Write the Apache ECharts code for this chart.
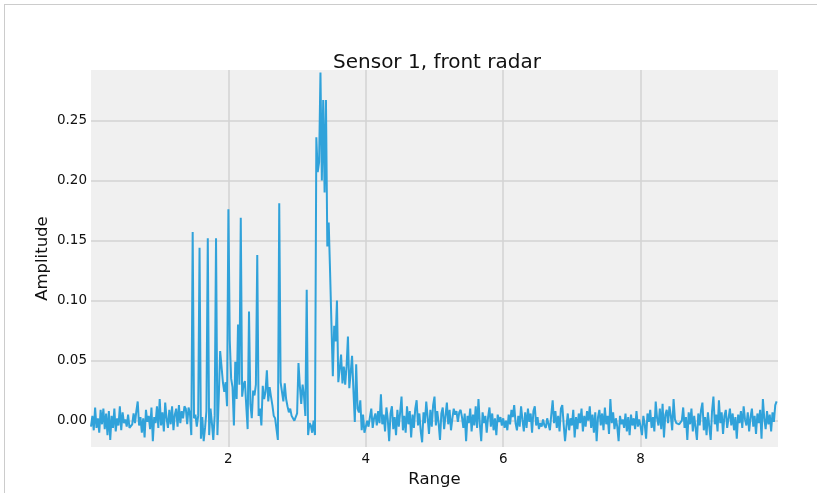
<!DOCTYPE html>
<html>
<head>
<meta charset="UTF-8">
<title>Sensor 1, front radar</title>
<script src="https://cdn.jsdelivr.net/npm/echarts@6/dist/echarts.min.js"></script>
<style>
  html, body { margin: 0; padding: 0; background: #fff; overflow: hidden; }
  #frame { position: absolute; left: 4px; top: 4px; width: 840px; height: 520px; border: 1px solid #cccccc; }
  #chart { position: absolute; left: 0; top: 0; width: 817px; height: 493px; }
</style>
</head>
<body>
<div id="frame"></div>
<div id="chart"></div>
<script>
// range samples every 0.02, amplitude in thousandths, one array per unit of range
var rangeStep = 0.02;
var amp0 = [-5, 4, -8, 11, -6, 2, -10, 9, -3, 10, -7, 6, -12, 8, -16, 4, -6, 10, -9, 2,
  -4, 12, -8, 7, -2, 1, -5, 5, -6, -5, -3, 6, -2, 8, 16, -4, 3, -10, 2, -14,
  9, -1, 4, -7, 11, -17, 3, -2, 12, -6];
var amp1 = [18, -4, 7, -9, 15, 2, -6, 9, -3, 12, -8, 5, 10, -5, 13, -2, 8, 2, 12, 10,
  -3, 11, 6, -12, 157, 2, 5, -5, 4, 144, -15, 3, -17, -6, 8, 152, -12, 10, -2, -16,
  4, 152, -12, 20, 58, 45, 32, 24, 32, 12];
var amp2 = [176, 67, 35, 28, -4, 49, 18, 80, 30, 169, 20, 30, 33, 12, -7, 91, 14, 2, 25, 21,
  30, 138, 4, 10, -4, 29, 18, 24, 42, 16, 28, 20, 13, 4, 2, -7, -16, 181, 32, 24,
  16, 31, 18, 12, 7, 10, 4, 2, 0, -1];
var amp3 = [6, 48, 29, 14, 30, 21, 4, 109, -12, -2, -4, -10, 0, -12, 236, 207, 215, 290, 200, 267,
  190, 267, 145, 165, 124, 80, 37, 79, 66, 100, 32, 43, 55, 31, 45, 30, 45, 70, 27, 40,
  54, 25, -1, 47, 10, 7, 17, -8, 5, -10];
var amp4 = [-10, 0, -5, 3, 10, -6, 2, 6, -4, 8, -2, 22, -3, 5, -9, 11, 1, -17, 6, 12,
  -7, 3, -12, 9, -5, 7, 20, -8, 4, -10, 12, -3, 8, -14, 5, -6, 10, 17, -4, 6,
  -9, -18, 7, -2, 16, 3, -11, 9, -5, 13];
var amp5 = [20, -4, 8, -2, -16, 6, 11, -7, 4, 15, -3, 9, -8, 2, 10, 5, 8, -1, 7, 9,
  3, -6, 6, -17, 4, -2, 10, -9, 5, -4, 12, -6, 18, -3, -17, 7, -2, 4, -10, 3,
  11, -5, 6, -8, 2, -12, 5, -1, 3, -4];
var amp6 = [2, -6, 0, -8, 5, -3, 9, 3, 13, -2, -8, 4, -5, 12, 1, -9, 7, -6, 10, -1,
  6, -10, 8, 12, -4, 3, -7, -2, -5, 1, -4, -6, 2, -3, -8, 5, 17, -2, 8, -6,
  4, -9, 10, 13, -3, -17, -5, 6, -8, 2];
var amp7 = [-4, 9, -14, 3, -7, 6, -2, 10, -9, 4, -5, 8, 0, 12, -6, 5, -10, 7, -17, 3,
  9, -4, 6, -8, 11, -3, 4, -11, 18, -2, 7, -7, 2, -5, -17, 4, -3, 1, -6, 6,
  -9, 3, -12, 5, -4, 2, -7, 8, -5, 1];
var amp8 = [-5, -12, 4, -3, -15, 6, -1, 9, -6, 3, -9, 16, 2, -4, 10, -7, 14, -14, 5, 9,
  -2, 12, 4, -8, 18, 1, -2, -1, -3, -2, 0, 11, -6, 3, -16, 7, -3, 10, -9, 4,
  -6, -16, 6, -4, 9, 15, -8, 3, -12, 7];
var amp9 = [-5, -16, 8, 20, -3, 5, -9, 17, -2, 7, -11, 4, 9, -6, 2, 10, -4, 6, -8, 3,
  -15, 5, -2, 8, -6, 12, 1, -4, 7, -9, 3, 10, -5, 4, -11, 6, -2, 9, -15, 18,
  2, -7, 8, -3, 5, -9, 7, -1, 13, 16];
var xTicks = [2, 4, 6, 8];
var yTicks = [0, 0.05, 0.1, 0.15, 0.2, 0.25];

var segments = [amp0, amp1, amp2, amp3, amp4, amp5, amp6, amp7, amp8, amp9];
var points = [];
segments.forEach(function (seg, k) {
    seg.forEach(function (v, i) {
        points.push([+(k + i * rangeStep).toFixed(2), v / 1000]);
    });
});

var chart = echarts.init(document.getElementById('chart'), null, { renderer: 'canvas' });
var option = {
    animation: false,
    title: {
        text: 'Sensor 1, front radar',
        left: 432,
        top: 48,
        textAlign: 'center',
        textStyle: { fontFamily: 'DejaVu Sans', fontSize: 20, fontWeight: 'normal', color: '#111' }
    },
    grid: {
        left: 91, right: 39, top: 70, bottom: 45,
        show: true, backgroundColor: '#f0f0f0', borderWidth: 0
    },
    xAxis: {
        type: 'value',
        min: 0,
        max: 10,
        name: 'Range',
        nameLocation: 'middle',
        nameGap: 20,
        nameTextStyle: { fontFamily: 'DejaVu Sans', fontSize: 16.5, color: '#111' },
        axisLine: { show: false },
        axisTick: { show: false, customValues: xTicks },
        axisLabel: {
            customValues: xTicks, margin: 5,
            fontFamily: 'DejaVu Sans', fontSize: 13.5, color: '#111'
        },
        splitLine: { show: true, lineStyle: { color: '#d3d3d3', width: 1.5 } }
    },
    yAxis: {
        type: 'value',
        min: -0.022,
        max: 0.292,
        name: 'Amplitude',
        nameLocation: 'middle',
        nameGap: 40,
        nameMoveOverlap: false,
        nameTextStyle: { fontFamily: 'DejaVu Sans', fontSize: 16.5, color: '#111' },
        axisLine: { show: false },
        axisTick: { show: false, customValues: yTicks },
        axisLabel: {
            customValues: yTicks, margin: 4,
            fontFamily: 'DejaVu Sans', fontSize: 13.5, color: '#111',
            formatter: function (v) { return v.toFixed(2); }
        },
        splitLine: { show: true, lineStyle: { color: '#d3d3d3', width: 1.5 } }
    },
    series: [{
        type: 'line',
        data: points,
        showSymbol: false,
        lineStyle: { color: '#30a2da', width: 2 },
        clip: true
    }]
};
chart.setOption(option);
</script>
</body>
</html>
